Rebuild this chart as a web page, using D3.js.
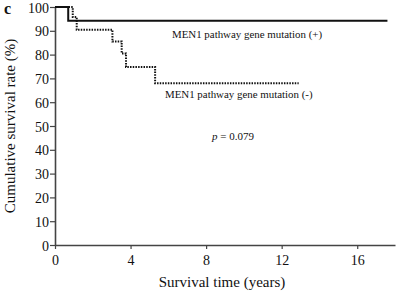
<!DOCTYPE html>
<html><head><meta charset="utf-8">
<script src="https://cdn.jsdelivr.net/npm/d3@7"></script>
<style>body{margin:0;background:#fff}svg{display:block}text{font-family:"Liberation Serif","Times New Roman",serif;fill:#111}</style>
</head><body><svg id="c" width="398" height="295"></svg>
<script>
// Kaplan-Meier step data: [time (years), survival %]
const posTimes = [0, 0.70, 17.6];
const posSurv  = [100, 94.2, 94.2];
const negTimes = [0, 0.94, 1.15, 3.04, 3.53, 3.76, 5.3, 12.9];
const negSurv  = [100, 95.8, 90.4, 85.5, 80.5, 74.8, 68.0, 68.0];
const xTicks = [0, 4, 8, 12, 16];
const yTicks = [0, 10, 20, 30, 40, 50, 60, 70, 80, 90, 100];
const labelPos = "MEN1 pathway gene mutation (+)";
const labelNeg = "MEN1 pathway gene mutation (-)";
const pText = " = 0.079";

const svg = d3.select("#c");
const x = d3.scaleLinear().domain([0, 18]).range([55, 395]);
const y = d3.scaleLinear().domain([0, 100]).range([245, 7]);

const gy = svg.append("g").attr("transform", "translate(55,0)")
  .call(d3.axisLeft(y).tickValues(yTicks).tickSize(5).tickPadding(1).tickSizeOuter(0));
const gx = svg.append("g").attr("transform", "translate(0,245)")
  .call(d3.axisBottom(x).tickValues(xTicks).tickSize(4).tickPadding(6).tickSizeOuter(0));
[gx, gy].forEach(g => {
  g.select(".domain").attr("stroke", "#444").attr("stroke-width", 1.6);
  g.selectAll(".tick line").attr("stroke", "#444").attr("stroke-width", 1.2);
  g.selectAll(".tick text").attr("font-family", "Liberation Serif").attr("font-size", 14).attr("fill", "#111");
});
gy.selectAll(".tick text").attr("dy", "0.36em");

const line = d3.line().x(d => x(d[0])).y(d => y(d[1])).curve(d3.curveStepAfter);
svg.append("path").datum(negTimes.map((t, i) => [t, negSurv[i]]))
  .attr("d", line).attr("fill", "none").attr("stroke", "#111")
  .attr("stroke-width", 2).attr("stroke-dasharray", "1.5,1.2");
svg.append("path").datum(posTimes.map((t, i) => [t, posSurv[i]]))
  .attr("d", line).attr("fill", "none").attr("stroke", "#111").attr("stroke-width", 2);

svg.append("text").attr("x", 172).attr("y", 38).attr("font-size", 10.9).text(labelPos);
svg.append("text").attr("x", 165).attr("y", 98).attr("font-size", 10.9).text(labelNeg);
const pt = svg.append("text").attr("x", 212).attr("y", 140).attr("font-size", 11);
pt.append("tspan").attr("font-style", "italic").text("p");
pt.append("tspan").text(pText);

svg.append("text").attr("x", 222).attr("y", 287).attr("text-anchor", "middle").attr("font-size", 15).text("Survival time (years)");
svg.append("text").attr("transform", "translate(15,126) rotate(-90)").attr("text-anchor", "middle").attr("font-size", 15).text("Cumulative survival rate (%)");
svg.append("text").attr("x", 4).attr("y", 14).attr("font-size", 16).attr("font-weight", "bold").text("c");
</script></body></html>
